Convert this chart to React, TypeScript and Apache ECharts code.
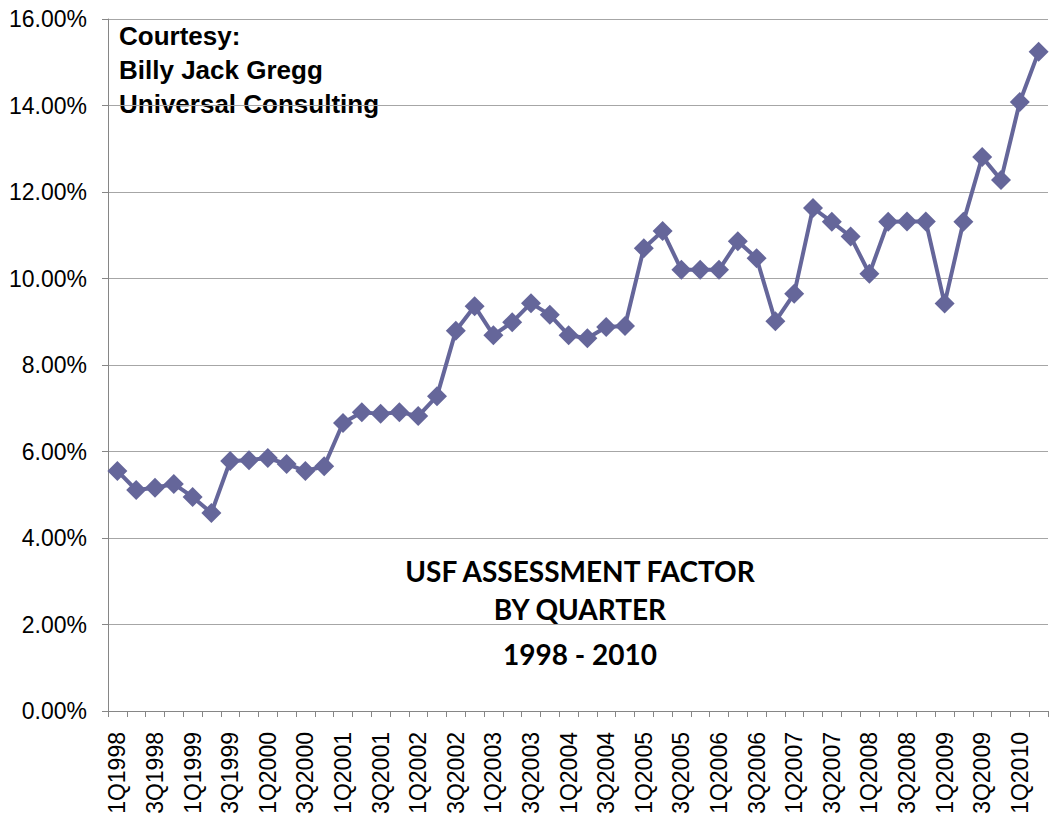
import React, { useEffect, useRef } from "react";
import * as echarts from "echarts";

const years = [1998, 1999, 2000, 2001, 2002, 2003, 2004, 2005, 2006, 2007, 2008, 2009, 2010];
const quarters = ["1Q", "2Q", "3Q", "4Q"];
const categories: string[] = [];
years.forEach((y) => quarters.forEach((q) => categories.push(q + y)));
categories.splice(50);

const usfFactor = [
  5.55, 5.11, 5.16, 5.25, 4.95, 4.58, 5.78, 5.8, 5.85, 5.71,
  5.55, 5.66, 6.66, 6.91, 6.87, 6.91, 6.82, 7.28, 8.79, 9.36,
  8.69, 8.99, 9.43, 9.16, 8.69, 8.62, 8.88, 8.9, 10.7, 11.1,
  10.2, 10.2, 10.2, 10.86, 10.47, 9.01, 9.65, 11.63, 11.31, 10.97,
  10.11, 11.31, 11.32, 11.32, 9.42, 11.31, 12.81, 12.28, 14.08, 15.24,
];

const yTicks = { min: 0, max: 16, interval: 2 };

const courtesyLines = ["Courtesy:", "Billy Jack Gregg", "Universal Consulting"];
const titleLines = ["USF ASSESSMENT FACTOR", "BY QUARTER", "1998 - 2010"];

export default function App() {
  const ref = useRef<HTMLDivElement>(null);
  useEffect(() => {
    if (!ref.current) return;
    const chart = echarts.init(ref.current, null, { renderer: "svg" });
    chart.setOption({
      animation: false,
      backgroundColor: "#ffffff",
      grid: { left: 108, right: 5, top: 19, bottom: 113, containLabel: false },
      xAxis: {
        type: "category",
        data: categories,
        boundaryGap: true,
        axisLine: { lineStyle: { color: "#868686", width: 1 } },
        axisTick: { show: true, interval: 0, length: 6, lineStyle: { color: "#868686" } },
        axisLabel: {
          interval: 1,
          rotate: 90,
          margin: 21,
          color: "#000",
          fontFamily: "Liberation Sans, Arial",
          fontSize: 23,
        },
      },
      yAxis: {
        type: "value",
        min: yTicks.min,
        max: yTicks.max,
        interval: yTicks.interval,
        axisLine: { show: true, lineStyle: { color: "#868686", width: 1 } },
        axisTick: { show: true, length: 6, lineStyle: { color: "#868686" } },
        splitLine: { show: true, lineStyle: { color: "#a6a6a6", width: 1 } },
        axisLabel: {
          formatter: (v: number) => v.toFixed(2) + "%",
          color: "#000",
          fontFamily: "Liberation Sans, Arial",
          fontSize: 23,
          margin: 21,
        },
      },
      series: [
        {
          type: "line",
          data: usfFactor,
          symbol: "diamond",
          symbolSize: 20,
          showAllSymbol: true,
          lineStyle: { color: "#65669a", width: 4 },
          itemStyle: { color: "#65669a" },
        },
      ],
      graphic: [
        ...courtesyLines.map((t, i) => ({
          type: "text",
          x: 119,
          y: 36 + i * 34,
          style: {
            text: t,
            font: "bold 26px 'Liberation Sans', Arial",
            fill: "#000",
            textVerticalAlign: "middle",
          },
        })),
        ...titleLines.map((t, i) => ({
          type: "text",
          x: 580,
          y: 571 + (i === 2 ? 83 : i * 38),
          style: {
            text: t,
            font: "bold 28px Lato, 'Open Sans', sans-serif",
            fill: "#000",
            textAlign: "center",
            textVerticalAlign: "middle",
          },
        })),
      ],
    });
    return () => chart.dispose();
  }, []);
  return (
    <div
      ref={ref}
      style={{ position: "absolute", left: 0, top: 0, width: 1053, height: 824 }}
    />
  );
}
